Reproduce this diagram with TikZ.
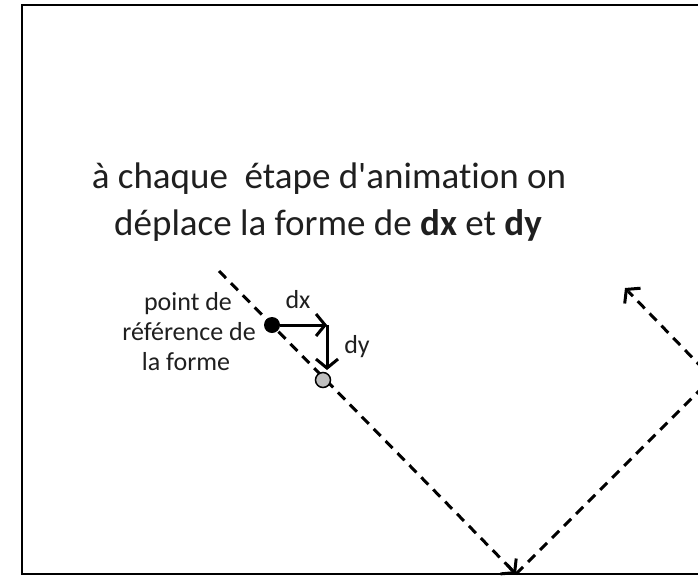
\documentclass[tikz,border=0pt]{standalone}
\usepackage{fontspec}
\setmainfont{Carlito}[Ligatures={NoCommon,TeXOff}]
\usetikzlibrary{arrows.meta,calc}
\tikzset{
  traj/.style={line width=3pt, dash pattern=on 10pt off 7pt},
  vec/.style={line width=3pt},
  barb/.style={-{Straight Barb[length=9pt,width=22pt]}},
  smalltxt/.style={font=\fontsize{26}{30}\selectfont, inner sep=0pt, anchor=base, text=black!88},
  bigtxt/.style={font=\fontsize{37}{44}\selectfont, inner sep=0pt, anchor=base, text=black!88},
  dotblack/.style={circle, fill=black, minimum size=16pt, inner sep=0pt},
  dotgray/.style={circle, fill=black!25, draw=black, line width=1.5pt, minimum size=15pt, inner sep=0pt}
}
\begin{document}
\begin{tikzpicture}[x=1pt, y=-1pt]
\useasboundingbox (0,0) rectangle (698,576);
\clip (0,0) rectangle (698,576);
\fill[white] (0,0) rectangle (698,576);
% frame
\draw[line width=2.2pt] (22,5) rectangle (712,574);
% trajectory
\coordinate (start) at (219,271);
\coordinate (b1) at (516,574);
\coordinate (b2) at (712,378);
\coordinate (fin) at (625,288);
\draw[traj] (start) -- (b1);
\draw[vec, barb] ($(start)!0.97!(b1)$) -- (b1);
\draw[traj] (b1) -- (b2) -- ($(b2)!0.96!(fin)$);
\draw[vec, barb] ($(b2)!0.96!(fin)$) -- (fin);
% dots
\node[dotblack] (bdot) at (272,325) {};
\node[dotgray] (gdot) at (323,380) {};
\coordinate (corner) at (327,325);
\coordinate (dyend) at (327,370);
\draw[vec, barb] (bdot.east) -- (corner);
\draw[vec, barb] (corner) -- (dyend);
% labels
\node[smalltxt] (ldx) at (298,308) {dx};
\node[smalltxt] (ldy) at (357,353) {dy};
\node[smalltxt] (p1) at (188,310) {point de};
\node[smalltxt] (p2) at (189,340) {référence de};
\node[smalltxt] (p3) at (186,370) {la forme};
\node[bigtxt] (t1) at (329,188) {à chaque\ \ étape d'animation on};
\node[bigtxt] (t2) at (328,235) {déplace la forme de \textbf{dx} et \textbf{dy}};
\end{tikzpicture}
\end{document}
